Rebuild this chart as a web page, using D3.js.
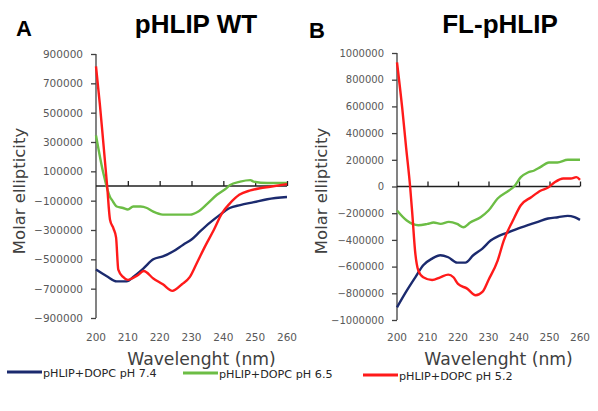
<!DOCTYPE html>
<html>
<head>
<meta charset="utf-8">
<script src="https://cdn.jsdelivr.net/npm/d3@7"></script>
<style>
  body { margin: 0; background: #fff; }
  svg { display: block; }
</style>
</head>
<body>
<div id="chart"></div>
<script>
// wavelength (nm), molar ellipticity
var wtPH74 = [[200,-570000],[203.4,-615000],[206.5,-650000],[209.6,-650000],[212,-615000],[215,-560000],[218,-500000],[221,-480000],[224.3,-445000],[227.4,-400000],[230,-365000],[232.7,-310000],[235.8,-250000],[239,-195000],[242,-150000],[245.3,-130000],[249.6,-110000],[253.8,-90000],[260,-75000]];
var wtPH65 = [[200,345000],[202.3,88000],[204.4,-75000],[205,-95000],[206.5,-140000],[208.5,-150000],[210,-160000],[211.7,-140000],[214,-140000],[216,-150000],[218,-175000],[221,-195000],[223,-195000],[226,-195000],[229.6,-195000],[232,-175000],[235,-120000],[238,-60000],[241,-15000],[242,5000],[245.3,30000],[248.5,40000],[249.5,30000],[253.8,20000],[260,20000]];
var wtPH52 = [[200,815000],[201.2,560000],[202.2,320000],[203.5,0],[204.4,-230000],[205.5,-290000],[206.3,-350000],[207,-570000],[208.5,-620000],[210,-640000],[213,-610000],[215,-580000],[218,-630000],[221,-670000],[224,-715000],[227,-670000],[229.5,-620000],[231.8,-520000],[234.3,-410000],[237,-300000],[239.6,-185000],[242,-120000],[245,-60000],[248.5,-30000],[251.5,-15000],[254.7,-5000],[260,13000]];

var flPH74 = [[200,-905000],[203.2,-780000],[206,-680000],[208.6,-590000],[211.5,-540000],[214.2,-515000],[216.8,-530000],[219.7,-570000],[222.4,-570000],[225,-515000],[228,-465000],[230.7,-405000],[233.4,-370000],[236.3,-345000],[239.6,-315000],[242.9,-290000],[246.2,-265000],[249.5,-240000],[252.8,-230000],[256,-220000],[258.2,-230000],[260,-250000]];
var flPH65 = [[200,-180000],[203.2,-255000],[207,-290000],[210,-280000],[212,-270000],[214.3,-280000],[217,-265000],[219.7,-280000],[221.8,-305000],[224,-270000],[227.4,-230000],[230,-180000],[233,-90000],[236.7,-30000],[238.4,0],[240.6,70000],[242.9,105000],[245,120000],[247,145000],[249.8,180000],[252.6,180000],[256,200000],[260,200000]];
var flPH52 = [[200,930000],[201.7,590000],[203,290000],[204.3,0],[205,-200000],[206,-500000],[207,-630000],[208.6,-680000],[211.5,-700000],[214.2,-680000],[216.8,-660000],[218.5,-680000],[220,-730000],[223,-765000],[225.8,-815000],[228,-790000],[230,-700000],[233,-555000],[235,-405000],[238,-255000],[240.6,-140000],[244,-80000],[247.2,-30000],[249.4,-10000],[251.6,30000],[254.5,60000],[257,60000],[258.8,70000],[260,50000]];

var xTicks = [200, 210, 220, 230, 240, 250, 260];
var wtYTicks = [900000, 700000, 500000, 300000, 100000, -100000, -300000, -500000, -700000, -900000];
var flYTicks = [1000000, 800000, 600000, 400000, 200000, 0, -200000, -400000, -600000, -800000, -1000000];

var seriesNames = ["pHLIP+DOPC pH 7.4", "pHLIP+DOPC pH 6.5", "pHLIP+DOPC pH 5.2"];
var seriesColors = ["#1b2a6e", "#6cbd45", "#ff1a1a"];

var svg = d3.select("#chart")
  .append("svg")
    .attr("width", 598)
    .attr("height", 411);

function panel(opt) {
  var x = d3.scaleLinear().domain([200, 260]).range([opt.left, opt.right]);
  var y = d3.scaleLinear().domain(opt.yDomain).range([opt.bottom, opt.top]);
  var g = svg.append("g");

  // panel letter and title
  g.append("text")
    .attr("x", opt.letterX).attr("y", opt.letterY)
    .style("font-family", "Liberation Sans, Arial, sans-serif")
    .style("font-weight", "bold").style("font-size", "22px")
    .text(opt.letter);
  g.append("text")
    .attr("x", opt.titleX).attr("y", 33)
    .attr("text-anchor", "middle")
    .style("font-family", "Liberation Sans, Arial, sans-serif")
    .style("font-weight", "bold").style("font-size", "26px")
    .text(opt.title);

  // y axis
  var yAxis = d3.axisLeft(y).tickValues(opt.yTicks).tickSize(5).tickPadding(8)
    .tickFormat(d3.format("d"));
  var ya = g.append("g").attr("transform", "translate(" + opt.left + ",0)").call(yAxis);
  ya.select(".domain").attr("stroke", "#404040").attr("stroke-width", 1.3)
    .attr("d", "M0," + y(opt.yDomain[0]) + "V" + y(opt.yDomain[1]));
  ya.selectAll(".tick line").attr("stroke", "#404040").attr("stroke-width", 1.3);
  ya.selectAll(".tick text")
    .style("font-family", "DejaVu Sans, Verdana, sans-serif")
    .style("font-size", opt.tickFont).attr("fill", "#595959");

  // x axis on zero line, ticks pointing up
  var xAxis = d3.axisTop(x).tickValues(xTicks.slice(1)).tickSize(5).tickFormat("");
  var xa = g.append("g").attr("transform", "translate(0," + y(0) + ")").call(xAxis);
  xa.select(".domain").attr("stroke", "#202020").attr("stroke-width", 1.3)
    .attr("d", "M" + opt.left + ",0H" + opt.right);
  xa.selectAll(".tick line").attr("stroke", "#202020").attr("stroke-width", 1.3);

  // x tick labels at the bottom
  g.selectAll(".xl").data(xTicks).enter().append("text")
    .attr("x", function(d) { return x(d); })
    .attr("y", 341)
    .attr("text-anchor", "middle")
    .style("font-family", "DejaVu Sans, Verdana, sans-serif")
    .style("font-size", "10.5px").attr("fill", "#595959")
    .text(function(d) { return d; });

  // axis titles
  g.append("text")
    .attr("x", (opt.left + opt.right) / 2 + 10).attr("y", 365)
    .attr("text-anchor", "middle")
    .style("font-family", "DejaVu Sans, Verdana, sans-serif")
    .style("font-size", "17.2px").attr("fill", "#404040")
    .text("Wavelenght (nm)");
  g.append("text")
    .attr("transform", "translate(" + opt.yTitleX + ",191)rotate(-90)")
    .attr("text-anchor", "middle")
    .style("font-family", "DejaVu Sans, Verdana, sans-serif")
    .style("font-size", "16.5px").attr("fill", "#404040")
    .text("Molar ellipticity");

  var line = d3.line()
    .x(function(d) { return x(d[0]); })
    .y(function(d) { return y(d[1]); })
    .curve(d3.curveMonotoneX);

  opt.series.forEach(function(s, i) {
    g.append("path")
      .datum(s)
      .attr("d", line)
      .attr("fill", "none")
      .attr("stroke", seriesColors[i])
      .attr("stroke-width", 2.4)
      .attr("stroke-linejoin", "round");
  });
}

panel({
  letter: "A", letterX: 16, letterY: 36,
  title: "pHLIP WT", titleX: 196,
  left: 96, right: 287, top: 54, bottom: 318,
  yDomain: [-900000, 900000], yTicks: wtYTicks, tickFont: "10.5px",
  yTitleX: 25,
  series: [wtPH74, wtPH65, wtPH52]
});

panel({
  letter: "B", letterX: 309, letterY: 38,
  title: "FL-pHLIP", titleX: 500,
  left: 397, right: 580, top: 53, bottom: 320,
  yDomain: [-1000000, 1000000], yTicks: flYTicks, tickFont: "10px",
  yTitleX: 327,
  series: [flPH74, flPH65, flPH52]
});

// legend
var legendX = [7, 183, 363];
var legendY = [372, 373, 375];
var leg = svg.selectAll(".leg").data(seriesNames).enter().append("g")
  .attr("transform", function(d, i) { return "translate(" + legendX[i] + "," + legendY[i] + ")"; });
leg.append("line")
  .attr("x1", 0).attr("x2", 35).attr("y1", 0).attr("y2", 0)
  .attr("stroke", function(d, i) { return seriesColors[i]; })
  .attr("stroke-width", 3);
leg.append("text")
  .attr("x", 36).attr("y", 5)
  .style("font-family", "DejaVu Sans, Verdana, sans-serif")
  .style("font-size", "11.2px").attr("fill", "#262626")
  .text(function(d) { return d; });
</script>
</body>
</html>
